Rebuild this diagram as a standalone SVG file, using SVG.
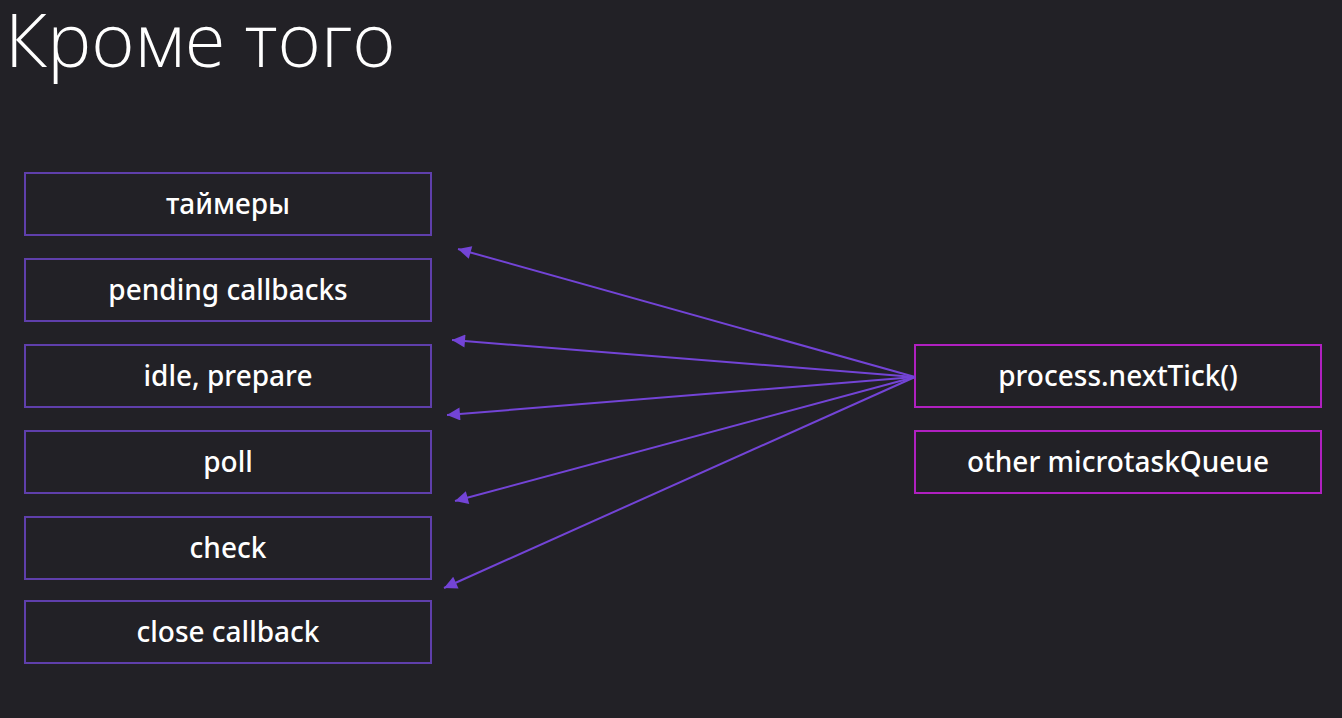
<svg xmlns="http://www.w3.org/2000/svg" width="1342" height="718" viewBox="0 0 1342 718">
<defs>
<marker id="ah" viewBox="0 0 10 10" refX="10" refY="5" markerWidth="17" markerHeight="13" markerUnits="userSpaceOnUse" orient="auto-start-reverse">
<path d="M0,0 L10,5 L0,10 z" fill="#7344d6"/>
</marker>
</defs>
<style>
.bg{fill:#222126}
.title{font-family:"Open Sans","Noto Sans",sans-serif;font-weight:300;font-size:74px;fill:#ffffff}
.box{fill:#222126;stroke:#5f3fab;stroke-width:2}
.box2{fill:#222126;stroke:#b020c0;stroke-width:2}
.lbl{font-family:"Noto Sans","Open Sans",sans-serif;font-weight:500;font-size:28px;fill:#ffffff;text-anchor:middle;dominant-baseline:central}
.conn{stroke:#7344d6;stroke-width:2;fill:none;marker-start:url(#ah)}
</style>
<rect class="bg" x="0" y="0" width="1342" height="718"/>
<text class="title" x="5" y="67">Кроме того</text>
<g id="n1"><rect class="box" x="25" y="173" width="406" height="62"/><text class="lbl" x="228" y="203">таймеры</text></g>
<g id="n2"><rect class="box" x="25" y="259" width="406" height="62"/><text class="lbl" x="228" y="289">pending callbacks</text></g>
<g id="n3"><rect class="box" x="25" y="345" width="406" height="62"/><text class="lbl" x="228" y="375">idle, prepare</text></g>
<g id="n4"><rect class="box" x="25" y="431" width="406" height="62"/><text class="lbl" x="228" y="461">poll</text></g>
<g id="n5"><rect class="box" x="25" y="517" width="406" height="62"/><text class="lbl" x="228" y="547">check</text></g>
<g id="n6"><rect class="box" x="25" y="601" width="406" height="62"/><text class="lbl" x="228" y="631">close callback</text></g>
<g id="n7"><rect class="box2" x="915" y="345" width="406" height="62"/><text class="lbl" x="1118" y="375">process.nextTick()</text></g>
<g id="n8"><rect class="box2" x="915" y="431" width="406" height="62"/><text class="lbl" x="1118" y="461">other microtaskQueue</text></g>
<g id="connectors">
<line class="conn" x1="458" y1="249" x2="915" y2="377"/>
<line class="conn" x1="452" y1="340" x2="915" y2="377"/>
<line class="conn" x1="447" y1="415" x2="915" y2="377"/>
<line class="conn" x1="455" y1="501" x2="915" y2="377"/>
<line class="conn" x1="444" y1="588" x2="915" y2="377"/>
</g>
</svg>
